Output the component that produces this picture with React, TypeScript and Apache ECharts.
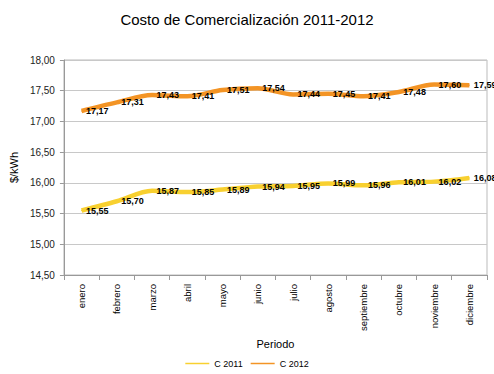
import React, { useEffect, useRef } from "react";
import * as echarts from "echarts";

const title = "Costo de Comercialización 2011-2012";
const months = ["enero", "febrero", "marzo", "abril", "mayo", "junio", "julio", "agosto", "septiembre", "octubre", "noviembre", "diciembre"];
const c2011 = [15.55, 15.70, 15.87, 15.85, 15.89, 15.94, 15.95, 15.99, 15.96, 16.01, 16.02, 16.08];
const c2012 = [17.17, 17.31, 17.43, 17.41, 17.51, 17.54, 17.44, 17.45, 17.41, 17.48, 17.60, 17.59];
const seriesNames = ["C 2011", "C 2012"];
const yMin = 14.5;
const yMax = 18;
const yStep = 0.5;

const FONT = "'Liberation Sans', Arial, sans-serif";
const fmt = (v: number) => v.toFixed(2).replace(".", ",");

export default function App() {
  const ref = useRef<HTMLDivElement>(null);
  useEffect(() => {
    document.body.style.margin = "0";
    const chart = echarts.init(ref.current!, null, { renderer: "svg" });
    const labelCfg = {
      show: true,
      position: "right" as const,
      distance: 4,
      fontFamily: FONT,
      fontSize: 9,
      fontWeight: "bold" as const,
      color: "#000",
      formatter: (p: any) => fmt(p.value),
    };
    chart.setOption({
      animation: false,
      backgroundColor: "#fff",
      textStyle: { fontFamily: FONT },
      title: {
        text: title,
        left: "center",
        top: 7,
        textStyle: { fontFamily: FONT, fontSize: 15, fontWeight: "normal", color: "#000" },
      },
      legend: {
        bottom: 1,
        left: "center",
        data: seriesNames.map((n) => ({ name: n, icon: "rect" })),
        itemWidth: 24,
        itemHeight: 1.5,
        itemGap: 8,
        textStyle: { fontFamily: FONT, fontSize: 9, color: "#000" },
      },
      grid: {
        left: 59,
        right: 7,
        top: 60,
        bottom: 99,
        show: true,
        borderColor: "#bbb",
        borderWidth: 1,
      },
      xAxis: {
        type: "category",
        data: months,
        boundaryGap: true,
        name: "Periodo",
        nameLocation: "middle",
        nameGap: 58,
        nameTextStyle: { fontFamily: FONT, fontSize: 11, color: "#000" },
        axisLine: { lineStyle: { color: "#999" } },
        axisTick: { show: true, length: 5, lineStyle: { color: "#999" } },
        axisLabel: { rotate: 90, fontFamily: FONT, fontSize: 9.5, color: "#000", margin: 9 },
        splitLine: { show: false },
      },
      yAxis: {
        type: "value",
        min: yMin,
        max: yMax,
        interval: yStep,
        name: "$/kWh",
        nameLocation: "middle",
        nameGap: 36,
        nameTextStyle: { fontFamily: FONT, fontSize: 11, color: "#000" },
        axisLine: { show: true, lineStyle: { color: "#999" } },
        axisTick: { show: true, length: 4, lineStyle: { color: "#999" } },
        axisLabel: { fontFamily: FONT, fontSize: 10, color: "#222", margin: 9, formatter: (v: number) => fmt(v) },
        splitLine: { lineStyle: { color: "#c8c8c8" } },
      },
      series: [
        {
          name: seriesNames[0],
          type: "line",
          data: c2011,
          smooth: 0.3,
          symbol: "circle",
          symbolSize: 1,
          showSymbol: true,
          lineStyle: { width: 4.5, color: "#F8D030" },
          itemStyle: { color: "#F8D030" },
          label: labelCfg,
        },
        {
          name: seriesNames[1],
          type: "line",
          data: c2012,
          smooth: 0.3,
          symbol: "circle",
          symbolSize: 1,
          showSymbol: true,
          lineStyle: { width: 4.5, color: "#F39425" },
          itemStyle: { color: "#F39425" },
          label: labelCfg,
        },
      ],
    });
    return () => chart.dispose();
  }, []);
  return <div ref={ref} style={{ width: 494, height: 374 }} />;
}
